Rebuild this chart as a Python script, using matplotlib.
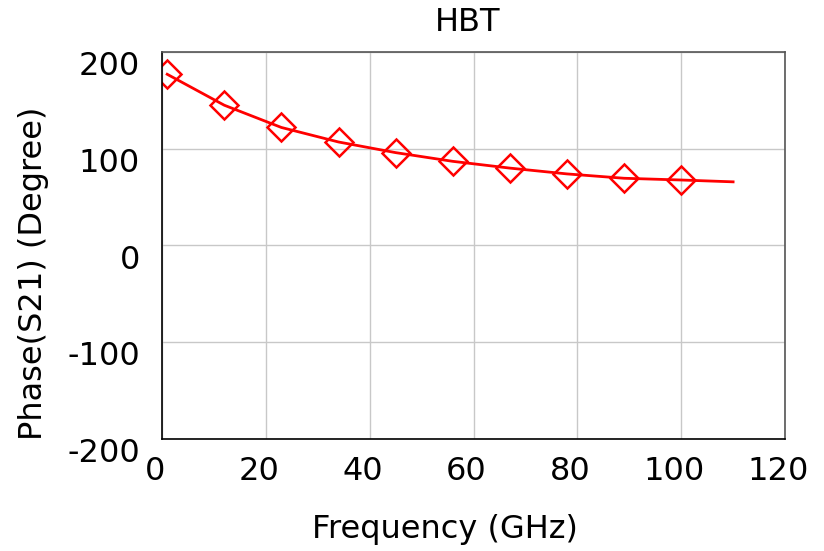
import matplotlib
matplotlib.use("Agg")
import matplotlib.pyplot as plt
from matplotlib.transforms import ScaledTranslation

# marker points
freq_markers = [1, 12, 23, 34, 45, 56, 67, 78, 89, 100]
phase_markers = [177, 145, 122, 107, 96, 87, 80, 74, 69.5, 67.7]

# curve points (markers plus the end of the trace)
freq_line = freq_markers + [110]
phase_line = phase_markers + [65.8]

plt.rcParams['font.family'] = ['DejaVu Sans']
plt.rcParams['axes.unicode_minus'] = False

fig = plt.figure(figsize=(8.24, 5.51), dpi=100)
ax = fig.add_axes([0.1966, 0.2033, 0.7561, 0.7023])

ax.plot(freq_line, phase_line, color='red', linewidth=2)
ax.plot(freq_markers, phase_markers, linestyle='none', marker='D',
        markersize=14, markerfacecolor='none', markeredgecolor='red',
        markeredgewidth=1.8)

ax.set_xlim(0, 120)
ax.set_ylim(-200, 200)
ax.set_xticks(range(0, 121, 20))
ax.set_yticks(range(-200, 201, 100))
ax.grid(True, color='#c8c8c8', linewidth=1)
ax.tick_params(length=0, labelsize=23)
ax.tick_params(axis='y', pad=16)
ax.tick_params(axis='x', pad=12)
for side in ['left', 'bottom']:
    ax.spines[side].set_color('black')
    ax.spines[side].set_linewidth(1.2)
for side in ['top', 'right']:
    ax.spines[side].set_color('#555555')
    ax.spines[side].set_linewidth(1.2)

# the original tool draws its tick labels a little off the ticks
for lbl in ax.get_yticklabels():
    lbl.set_transform(lbl.get_transform() + ScaledTranslation(0, -8 / 72, fig.dpi_scale_trans))
for lbl in ax.get_xticklabels():
    lbl.set_transform(lbl.get_transform() + ScaledTranslation(-5 / 72, 0, fig.dpi_scale_trans))

ax.set_xlabel('Frequency (GHz)', fontsize=23, va='center')
ax.xaxis.set_label_coords(0.454, -0.235)
ax.set_ylabel('Phase(S21) (Degree)', fontsize=23, va='center')
ax.yaxis.set_label_coords(-0.207, 0.429)
ax.text(0.491, 1.075, 'HBT', transform=ax.transAxes, fontsize=23,
        ha='center', va='center')

fig.savefig('out.png', dpi=100)
